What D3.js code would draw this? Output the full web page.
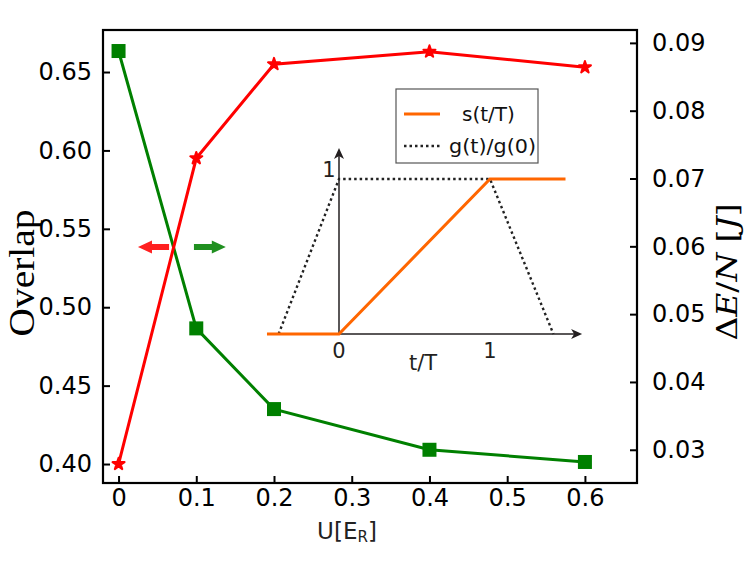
<!DOCTYPE html>
<html><head><meta charset="utf-8">
<script src="https://cdn.jsdelivr.net/npm/d3@7"></script>
<style>body{margin:0;background:#fff}svg{display:block}</style>
</head><body>
<svg id="c" width="747" height="572"></svg>
<script>
// ---- data ----
const uValues = [0, 0.1, 0.2, 0.4, 0.6];
const overlap = [0.400, 0.595, 0.655, 0.663, 0.653];
const deltaE = [0.0888, 0.0479, 0.0360, 0.0300, 0.0282];
const xTicks = [0, 0.1, 0.2, 0.3, 0.4, 0.5, 0.6];
const xTickLabels = ["0", "0.1", "0.2", "0.3", "0.4", "0.5", "0.6"];
const leftTicks = [0.40, 0.45, 0.50, 0.55, 0.60, 0.65];
const rightTicks = [0.03, 0.04, 0.05, 0.06, 0.07, 0.08, 0.09];
// arrows [u start, u end, overlap level]
const redArrow = [0.065, 0.025, 0.5384];
const greenArrow = [0.097, 0.138, 0.5384];
// inset schedule
const sT = [-0.477, 0, 1, 1.5], sV = [0, 0, 1, 1];
const gT = [-0.40, 0, 1, 1.42], gV = [0, 1, 1, 0];
const insetTicks = [0, 1];

const svg = d3.select("#c");
const L = 103, R = 637, T = 30, B = 483;
const x = d3.scaleLinear().domain([-0.02, 0.667]).range([L, R]);
const yL = d3.scaleLinear().domain([0.3879, 0.6768]).range([B, T]);
const yR = d3.scaleLinear().domain([0.0251, 0.0919]).range([B, T]);
const tickFont = "'DejaVu Sans', sans-serif";

// axes
const gx = svg.append("g").attr("transform", `translate(0,${B})`)
  .call(d3.axisBottom(x).tickValues(xTicks).tickFormat((d,i)=>xTickLabels[i]).tickSizeInner(-7).tickSizeOuter(0).tickPadding(6));
const gl = svg.append("g").attr("transform", `translate(${L},0)`)
  .call(d3.axisLeft(yL).tickValues(leftTicks).tickFormat(d3.format(".2f")).tickSizeInner(-7).tickSizeOuter(0).tickPadding(11));
const gr = svg.append("g").attr("transform", `translate(${R},0)`)
  .call(d3.axisRight(yR).tickValues(rightTicks).tickFormat(d3.format(".2f")).tickSizeInner(-7).tickSizeOuter(0).tickPadding(15));
[gx, gl, gr].forEach(g => {
  g.select(".domain").remove();
  g.selectAll(".tick line").attr("stroke", "#000").attr("stroke-width", 2);
  g.selectAll(".tick text").attr("font-family", tickFont).attr("font-size", 24).attr("fill", "#000");
});
svg.append("rect").attr("x", L).attr("y", T).attr("width", R - L).attr("height", B - T)
  .attr("fill", "none").attr("stroke", "#000").attr("stroke-width", 2.2);

// series
const lineL = d3.line().x((d,i)=>x(uValues[i])).y(d=>yL(d));
const lineR = d3.line().x((d,i)=>x(uValues[i])).y(d=>yR(d));
svg.append("path").attr("d", lineR(deltaE)).attr("fill", "none").attr("stroke", "#008000").attr("stroke-width", 3);
svg.append("path").attr("d", lineL(overlap)).attr("fill", "none").attr("stroke", "#ff0000").attr("stroke-width", 3);
svg.selectAll(".sq").data(deltaE).enter().append("rect")
  .attr("x", (d,i)=>x(uValues[i]) - 7).attr("y", d=>yR(d) - 7).attr("width", 14).attr("height", 14).attr("fill", "#008000");
const star = d3.symbol().type(d3.symbolStar).size(45);
svg.selectAll(".st").data(overlap).enter().append("path")
  .attr("d", star).attr("transform", (d,i)=>`translate(${x(uValues[i])},${yL(d)})`)
  .attr("fill", "#ff0000").attr("stroke", "#ff0000").attr("stroke-width", 2).attr("stroke-linejoin", "round");

// fancy arrows
function fancyArrow(a, color) {
  const x0 = x(a[0]), x1 = x(a[1]), y = yL(a[2]);
  const dir = Math.sign(x1 - x0), hl = 14, hw = 6.5, tw = 3;
  const xb = x1 - dir * hl;
  const pts = [[x0, y - tw], [xb, y - tw], [xb, y - hw], [x1, y], [xb, y + hw], [xb, y + tw], [x0, y + tw]];
  svg.append("path").attr("d", d3.line()(pts) + "Z").attr("fill", color);
}
fancyArrow(redArrow, "#ff2020");
fancyArrow(greenArrow, "#209020");

// axis labels
svg.append("text").attr("transform", "translate(34,273) rotate(-90)").attr("text-anchor", "middle")
  .attr("font-family", "'Liberation Serif', serif").attr("font-size", 35)
  .attr("textLength", 127).attr("lengthAdjust", "spacingAndGlyphs").text("Overlap");
const rl = svg.append("text").attr("transform", "translate(737,272) rotate(-90)").attr("text-anchor", "middle")
  .attr("font-family", "'DejaVu Serif', serif").attr("font-size", 27)
  .attr("textLength", 137).attr("lengthAdjust", "spacingAndGlyphs");
rl.append("tspan").text("Δ");
rl.append("tspan").attr("font-style", "italic").text("E");
rl.append("tspan").text("/");
rl.append("tspan").attr("font-style", "italic").text("N");
rl.append("tspan").text(" [");
rl.append("tspan").attr("font-style", "italic").text("J");
rl.append("tspan").text("]");
const xl = svg.append("text").attr("x", 347).attr("y", 539).attr("text-anchor", "middle")
  .attr("font-family", tickFont).attr("font-size", 23).attr("fill", "#222");
xl.append("tspan").text("U[E");
xl.append("tspan").attr("font-size", 15).attr("dy", 3).text("R");
xl.append("tspan").attr("dy", -3).text("]");

// inset
const ix = d3.scaleLinear().domain([0, 1]).range([339, 490]);
const iy = d3.scaleLinear().domain([0, 1]).range([334, 179]);
const ink = "#231f20";
svg.append("line").attr("x1", ix(-0.477)).attr("x2", ix(1.61) - 8).attr("y1", iy(0)).attr("y2", iy(0)).attr("stroke", ink).attr("stroke-width", 1.5);
svg.append("path").attr("d", d3.line()([[ix(1.61)-11, iy(0)-5],[ix(1.61), iy(0)],[ix(1.61)-11, iy(0)+5],[ix(1.61)-8, iy(0)]]) + "Z").attr("fill", ink);
svg.append("line").attr("x1", ix(0)).attr("x2", ix(0)).attr("y1", iy(0)).attr("y2", iy(1.2) + 8).attr("stroke", ink).attr("stroke-width", 1.5);
svg.append("path").attr("d", d3.line()([[ix(0)-5, iy(1.2)+11],[ix(0), iy(1.2)],[ix(0)+5, iy(1.2)+11],[ix(0), iy(1.2)+8]]) + "Z").attr("fill", ink);
svg.append("path").attr("d", d3.line()(gT.map((t,i)=>[ix(t), iy(gV[i])])))
  .attr("fill", "none").attr("stroke", "#222").attr("stroke-width", 2.4).attr("stroke-dasharray", "2.5,3");
svg.append("path").attr("d", d3.line()(sT.map((t,i)=>[ix(t), iy(sV[i])])))
  .attr("fill", "none").attr("stroke", "#ff6600").attr("stroke-width", 3);
svg.selectAll(".itx").data(insetTicks).enter().append("text")
  .attr("x", d=>ix(d)).attr("y", 358).attr("text-anchor", "middle")
  .attr("font-family", tickFont).attr("font-size", 21).attr("fill", ink).text(d=>d);
svg.append("text").attr("x", 329).attr("y", 177).attr("text-anchor", "middle")
  .attr("font-family", tickFont).attr("font-size", 21).attr("fill", ink).text("1");
svg.append("text").attr("x", 423).attr("y", 370).attr("text-anchor", "middle")
  .attr("font-family", tickFont).attr("font-size", 21).attr("fill", ink).text("t/T");

// legend
svg.append("rect").attr("x", 396).attr("y", 89).attr("width", 142).attr("height", 74)
  .attr("fill", "#fff").attr("stroke", "#555").attr("stroke-width", 1.2);
svg.append("line").attr("x1", 404).attr("x2", 440).attr("y1", 114).attr("y2", 114).attr("stroke", "#ff6600").attr("stroke-width", 3);
svg.append("line").attr("x1", 404).attr("x2", 440).attr("y1", 146).attr("y2", 146).attr("stroke", "#222").attr("stroke-width", 2.4).attr("stroke-dasharray", "2.5,3");
svg.append("text").attr("x", 462).attr("y", 121).attr("font-family", tickFont).attr("font-size", 20).attr("fill", "#111").text("s(t/T)");
svg.append("text").attr("x", 449).attr("y", 153).attr("font-family", tickFont).attr("font-size", 20).attr("fill", "#111")
  .attr("textLength", 87).attr("lengthAdjust", "spacingAndGlyphs").text("g(t)/g(0)");
</script>
</body></html>
